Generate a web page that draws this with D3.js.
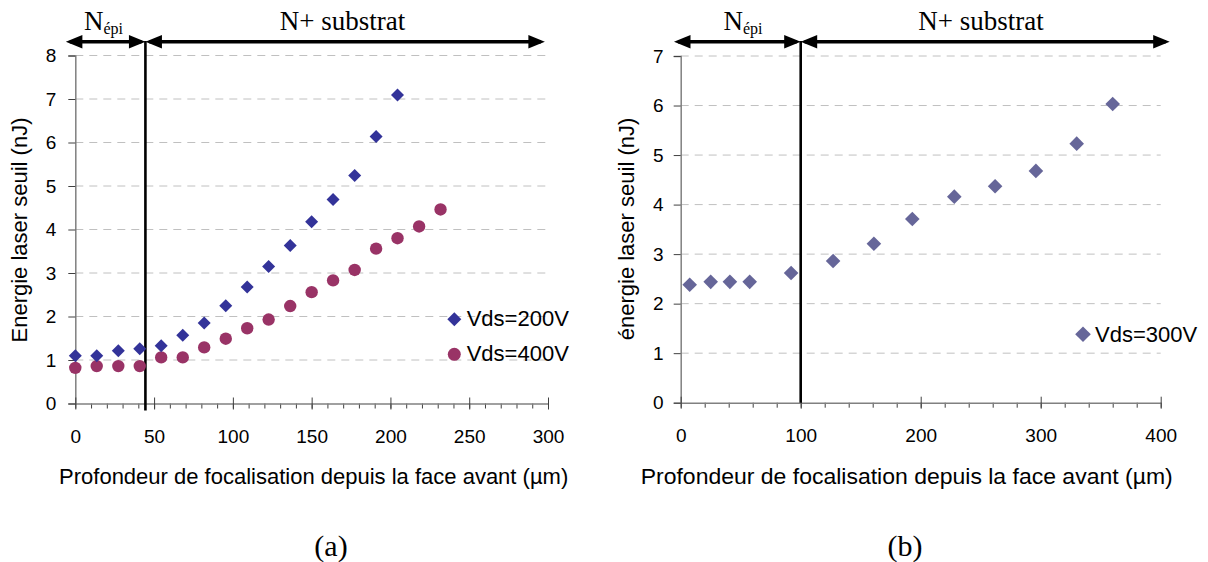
<!DOCTYPE html>
<html>
<head>
<meta charset="utf-8">
<script src="https://cdn.jsdelivr.net/npm/d3@7"></script>
<style>
  body { margin: 0; background: #fff; }
  svg { display: block; }
  text { font-family: "Liberation Sans", Arial, sans-serif; fill: #000; }
  .serif { font-family: "Liberation Serif", "Times New Roman", serif; }
</style>
</head>
<body>
<svg id="svg" width="1208" height="562"></svg>
<script>
// (a) depth in µm, threshold energy in nJ
const depth200 = [0, 13.6, 27.3, 40.9, 54.5, 68.2, 81.8, 95.5, 109.1, 122.7, 136.4, 150, 163.6, 177.3, 190.9, 204.5]
const energy200 = [1.10, 1.10, 1.21, 1.26, 1.33, 1.57, 1.85, 2.25, 2.68, 3.15, 3.63, 4.18, 4.69, 5.24, 6.14, 7.09]
const depth400 = [0, 13.6, 27.3, 40.9, 54.5, 68.2, 81.8, 95.5, 109.1, 122.7, 136.4, 150, 163.6, 177.3, 190.9, 204.5, 218.2, 231.8]
const energy400 = [0.82, 0.86, 0.86, 0.86, 1.06, 1.06, 1.29, 1.49, 1.73, 1.93, 2.24, 2.56, 2.83, 3.07, 3.56, 3.80, 4.07, 4.46]
// (b)
const depth300 = [7.5, 25, 41, 57.5, 92, 127, 161, 193, 228, 262, 296, 330, 360]
const energy300 = [2.38, 2.44, 2.44, 2.44, 2.62, 2.86, 3.21, 3.71, 4.16, 4.37, 4.68, 5.23, 6.03]

const xTicksA = [0, 50, 100, 150, 200, 250, 300]
const yTicksA = [0, 1, 2, 3, 4, 5, 6, 7, 8]
const xTicksB = [0, 100, 200, 300, 400]
const yTicksB = [0, 1, 2, 3, 4, 5, 6, 7]
const boundaryA = 44.5
const boundaryB = 100

const xLabel = 'Profondeur de focalisation depuis la face avant (µm)'

const svg = d3.select('#svg')

const diamond = r => `M0,${-r}L${r},0L0,${r}L${-r},0Z`

function drawPanel(p) {
  const g = svg.append('g')
  const [x0, x1] = p.x.range()

  // dashed grid
  g.selectAll('.grid')
    .data(p.yTicks.filter(d => d > 0))
    .enter()
    .append('line')
    .attr('x1', x0).attr('x2', x1)
    .attr('y1', d => p.y(d)).attr('y2', d => p.y(d))
    .attr('stroke', '#c0c0c0')
    .attr('stroke-dasharray', '8,6')

  // y axis
  const yAxis = g.append('g')
    .attr('transform', `translate(${x0},0)`)
    .call(d3.axisLeft(p.y).tickValues(p.yTicks).tickSize(7).tickPadding(p.yPad).tickFormat(d3.format('d')))
  yAxis.select('.domain').attr('stroke', '#808080').attr('stroke-width', 1.5)
  yAxis.selectAll('.tick line').attr('stroke', '#404040')
  yAxis.selectAll('.tick text').style('font-size', '19px').attr('fill', '#000')

  // x axis, minor ticks then majors crossing the line
  const y0 = p.y(0)
  g.append('g')
    .attr('transform', `translate(0,${y0})`)
    .call(d3.axisBottom(p.x).tickValues(d3.range(0, p.x.domain()[1] + 1, p.minor)).tickSize(5).tickFormat(''))
    .call(a => a.select('.domain').remove())
    .selectAll('.tick line').attr('stroke', '#404040')
  const xAxis = g.append('g')
    .attr('transform', `translate(0,${y0})`)
    .call(d3.axisBottom(p.x).tickValues(p.xTicks).tickSizeOuter(0).tickSizeInner(6))
  xAxis.select('.domain').attr('stroke', '#808080').attr('stroke-width', 1.5)
  xAxis.selectAll('.tick line').attr('y1', -6).attr('y2', 6).attr('stroke', '#404040')
  xAxis.selectAll('.tick text')
    .attr('y', 39).attr('dy', 0)
    .style('font-size', '19px').attr('fill', '#000')

  // axis titles
  const xt = g.append('text')
    .attr('x', (x0 + x1) / 2 - p.xTitleShift).attr('y', 484)
    .attr('text-anchor', 'middle')
    .style('font-size', '22px')
    .text(xLabel)
  if (p.xTitleLen) xt.attr('textLength', p.xTitleLen).attr('lengthAdjust', 'spacingAndGlyphs')
  g.append('text')
    .attr('transform', `translate(${p.yTitleX},${p.yTitleY}) rotate(-90)`)
    .attr('text-anchor', 'middle')
    .style('font-size', '22px')
    .text(p.yTitle)

  // region separator and arrows
  const bx = p.x(p.boundary)
  g.append('line')
    .attr('x1', bx).attr('x2', bx)
    .attr('y1', 41).attr('y2', y0 + p.sepExtra)
    .attr('stroke', '#000').attr('stroke-width', 2.6)
  drawArrow(g, p.x(p.arrowLeft), bx, 41.7)
  drawArrow(g, bx, p.x(p.arrowRight), 41.7)

  const nText = g.append('text').attr('class', 'serif')
    .attr('x', p.nX).attr('y', 30).style('font-size', '27px')
  nText.append('tspan').text('N')
  nText.append('tspan').attr('dy', 4).style('font-size', '16px').text('épi')
  g.append('text').attr('class', 'serif')
    .attr('x', p.subX).attr('y', 30)
    .attr('text-anchor', 'middle')
    .style('font-size', '27px')
    .text('N+ substrat')

  g.append('text').attr('class', 'serif')
    .attr('x', p.capX).attr('y', 556)
    .attr('text-anchor', 'middle')
    .style('font-size', '30px')
    .text(p.caption)
  return g
}

function drawArrow(g, xa, xb, y) {
  const len = 16.5, hw = 6.7
  g.append('line')
    .attr('x1', xa + 4).attr('x2', xb - 4)
    .attr('y1', y).attr('y2', y)
    .attr('stroke', '#000').attr('stroke-width', 3.4)
  g.append('path')
    .attr('d', `M${xa},${y}L${xa + len},${y - hw}L${xa + len},${y + hw}Z`)
  g.append('path')
    .attr('d', `M${xb},${y}L${xb - len},${y - hw}L${xb - len},${y + hw}Z`)
}

// panel (a)
const xA = d3.scaleLinear().domain([0, 300]).range([75.3, 548])
const yA = d3.scaleLinear().domain([0, 8]).range([403.5, 55.5])
const gA = drawPanel({
  x: xA, y: yA, xTicks: xTicksA, yTicks: yTicksA, minor: 10, yPad: 12,
  boundary: boundaryA, arrowLeft: -6, arrowRight: 298, sepExtra: 7,
  yTitle: 'Energie laser seuil (nJ)', yTitleX: 27, yTitleY: 230, xTitleShift: -2,
  nX: 84, subX: 342.5, capX: 331, caption: '(a)'
})
const s200 = d3.zip(depth200, energy200)
const s400 = d3.zip(depth400, energy400)
gA.selectAll('.c400').data(s400).enter().append('circle')
  .attr('cx', d => xA(d[0])).attr('cy', d => yA(d[1])).attr('r', 6.2)
  .attr('fill', '#993366')
gA.selectAll('.d200').data(s200).enter().append('path')
  .attr('d', diamond(6.5))
  .attr('transform', d => `translate(${xA(d[0])},${yA(d[1])})`)
  .attr('fill', '#333399')

// legend (a)
gA.append('path').attr('d', diamond(7)).attr('transform', 'translate(454.3,319.3)').attr('fill', '#333399')
gA.append('text').attr('x', 466.7).attr('y', 326).style('font-size', '22px').text('Vds=200V')
gA.append('circle').attr('cx', 454.3).attr('cy', 354.3).attr('r', 6.5).attr('fill', '#993366')
gA.append('text').attr('x', 466.7).attr('y', 361).style('font-size', '22px').text('Vds=400V')

// panel (b)
const xB = d3.scaleLinear().domain([0, 400]).range([680.7, 1160.7])
const yB = d3.scaleLinear().domain([0, 7]).range([402.7, 56])
const gB = drawPanel({
  x: xB, y: yB, xTicks: xTicksB, yTicks: yTicksB, minor: 20, yPad: 10,
  boundary: boundaryB, arrowLeft: -5.6, arrowRight: 407.5, sepExtra: 0,
  yTitle: 'énergie laser seuil (nJ)', yTitleX: 634, yTitleY: 229, xTitleShift: 14,
  xTitleLen: 532,
  nX: 723.5, subX: 981, capX: 905, caption: '(b)'
})
const s300 = d3.zip(depth300, energy300)
gB.selectAll('.d300').data(s300).enter().append('path')
  .attr('d', diamond(7.3))
  .attr('transform', d => `translate(${xB(d[0])},${yB(d[1])})`)
  .attr('fill', '#666699')

// legend (b)
gB.append('path').attr('d', diamond(7.8)).attr('transform', 'translate(1083,334.3)').attr('fill', '#666699')
gB.append('text').attr('x', 1095).attr('y', 341.5).style('font-size', '22px').text('Vds=300V')
</script>
</body>
</html>
